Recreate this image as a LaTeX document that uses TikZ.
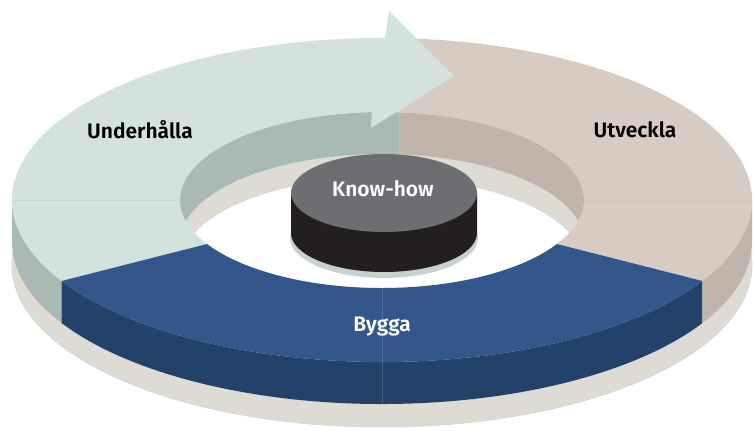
\documentclass[tikz,border=0pt]{standalone}
\usepackage{fontspec}
\setmainfont{Fira Sans}[BoldFont={Fira Sans SemiBold}]
\usetikzlibrary{calc}
\definecolor{gtop}{HTML}{D3E2DC}
\definecolor{gwall}{HTML}{A9B9B4}
\definecolor{ttop}{HTML}{D7CBC2}
\definecolor{twall}{HTML}{C1B5AB}
\definecolor{btop}{HTML}{33578A}
\definecolor{bwall}{HTML}{22426A}
\definecolor{shadowc}{HTML}{DEDBD5}
\definecolor{edgec}{HTML}{CFDADB}
\definecolor{pucktop}{HTML}{6D6E71}
\definecolor{puckside}{HTML}{231F20}
\definecolor{puckshadow}{HTML}{C8D1D1}
\tikzset{
  lbl/.style={font=\fontsize{21}{24}\selectfont\bfseries, text=black},
  wlbl/.style={font=\fontsize{21}{24}\selectfont\bfseries, text=white},
  seam/.style={line width=0.5pt, opacity=0.25},
}
\begin{document}
\begin{tikzpicture}[x=1pt,y=1pt]
\useasboundingbox (0,0) rectangle (753,431);
\fill[white] (0,0) rectangle (753,431);
\coordinate (T) at (382,231);
\coordinate (S) at (382,166);
\coordinate (P) at (384,238);
% shadow ring
\fill[shadowc, draw=edgec, line width=0.8pt] (S) ellipse[x radius=370, y radius=162];
\fill[white, draw=edgec, line width=0.8pt] (S) ellipse[x radius=202, y radius=88];
% outer walls
\fill[gwall] ($(T)+(180:370 and 162)$) arc[start angle=180,end angle=210,x radius=370,y radius=162] -- ++(0,-42) arc[start angle=210,end angle=180,x radius=370,y radius=162] -- cycle;
\fill[bwall] ($(T)+(210:370 and 162)$) arc[start angle=210,end angle=330,x radius=370,y radius=162] -- ++(0,-42) arc[start angle=330,end angle=210,x radius=370,y radius=162] -- cycle;
\fill[twall] ($(T)+(330:370 and 162)$) arc[start angle=330,end angle=360,x radius=370,y radius=162] -- ++(0,-42) arc[start angle=360,end angle=330,x radius=370,y radius=162] -- cycle;
% inner walls
\fill[gwall] ($(T)+(85:202 and 88)$) arc[start angle=85,end angle=180,x radius=202,y radius=88] -- ++(0,-42) arc[start angle=180,end angle=85,x radius=202,y radius=88] -- cycle;
\fill[twall] ($(T)+(0:202 and 88)$) arc[start angle=0,end angle=85,x radius=202,y radius=88] -- ++(0,-42) arc[start angle=85,end angle=0,x radius=202,y radius=88] -- cycle;
% top faces
\fill[gtop] ($(T)+(85:370 and 162)$) arc[start angle=85,end angle=210,x radius=370,y radius=162] -- ($(T)+(210:202 and 88)$) arc[start angle=210,end angle=85,x radius=202,y radius=88] -- cycle;
\fill[ttop] ($(T)+(-30:370 and 162)$) arc[start angle=-30,end angle=85,x radius=370,y radius=162] -- ($(T)+(85:202 and 88)$) arc[start angle=85,end angle=-30,x radius=202,y radius=88] -- cycle;
\fill[btop] ($(T)+(210:370 and 162)$) arc[start angle=210,end angle=330,x radius=370,y radius=162] -- ($(T)+(330:202 and 88)$) arc[start angle=330,end angle=210,x radius=202,y radius=88] -- cycle;
% seams
\draw[seam, gwall] ($(T)+(180:370 and 162)$) -- ($(T)+(180:202 and 88)$);
\draw[seam, twall] ($(T)+(0:370 and 162)$) -- ($(T)+(0:202 and 88)$);
\draw[seam, white!60!btop] ($(T)+(270:202 and 88)$) -- ($(T)+(270:370 and 162)+(0,-42)$);
% arrowhead
\coordinate (a1) at (385,393);
\coordinate (a2) at (389,420);
\coordinate (a3) at (454,355);
\coordinate (a4) at (371,303);
\coordinate (a5) at (372,319);
\fill[gtop] (a1) -- (a2) -- (a3) -- (a4) -- (a5) -- cycle;
% puck
\fill[puckshadow] ($(P)+(0,-45)$) ellipse[x radius=94, y radius=40];
\fill[puckside] ($(P)+(-93,0)$) -- ++(0,-40) arc[start angle=180,end angle=360,x radius=93,y radius=39] -- ++(0,40) -- cycle;
\fill[pucktop] (P) ellipse[x radius=93, y radius=39];
% labels
\node[lbl] (under) at (140,301) {Underhålla};
\node[lbl] (utv) at (635,301) {Utveckla};
\node[wlbl] (know) at (383,242) {Know-how};
\node[wlbl] (bygga) at (382,104) {Bygga};
\end{tikzpicture}
\end{document}
